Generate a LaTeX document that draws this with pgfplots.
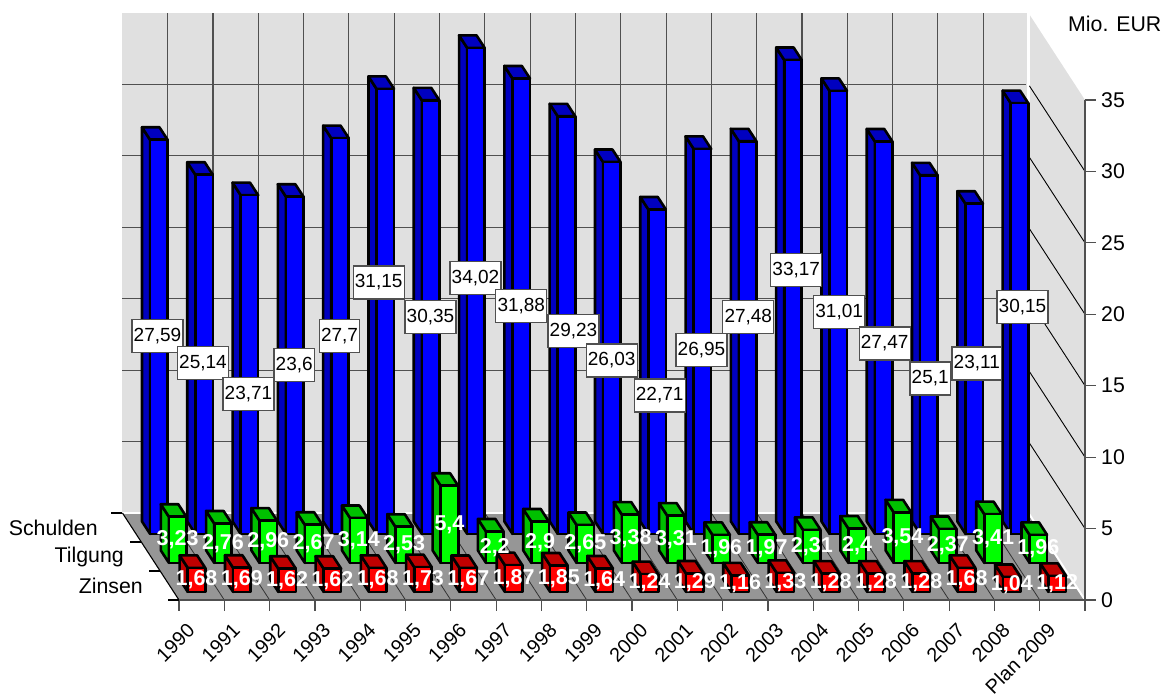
\documentclass[border=0pt]{standalone}
\usepackage{fontspec}
\setmainfont{Liberation Sans}
\usepackage{pgfplots}
\usepackage{pgfplotstable}
\pgfplotsset{compat=1.18}

\definecolor{wallgray}{HTML}{E0E0E0}
\definecolor{floorgray}{HTML}{969696}
\definecolor{gridgray}{HTML}{505050}
\definecolor{blueside}{HTML}{0000C0}
\definecolor{greenside}{HTML}{00C000}
\definecolor{redside}{HTML}{C00000}

% lx, lz: where the value box of the Schulden bar sits
\pgfplotstableread{
i year zinsen tilgung schulden lx lz
0 1990 1.68 3.23 27.59 -0.475 18.46
1 1991 1.69 2.76 25.14 0.530 16.57
2 1992 1.62 2.96 23.71 1.534 14.44
3 1993 1.62 2.67 23.6 2.543 16.43
4 1994 1.68 3.14 27.7 3.543 18.49
5 1995 1.73 2.53 31.15 4.408 22.22
6 1996 1.67 5.4 30.35 5.552 19.81
7 1997 1.87 2.2 34.02 6.545 22.55
8 1998 1.85 2.9 31.88 7.556 20.57
9 1999 1.64 2.65 29.23 8.709 18.84
10 2000 1.24 3.38 26.03 9.552 16.76
11 2001 1.29 3.31 22.71 10.611 14.31
12 2002 1.16 1.96 26.95 11.534 17.52
13 2003 1.33 1.97 27.48 12.567 19.79
14 2004 1.28 2.31 33.17 13.625 23.11
15 2005 1.28 2.4 31.01 14.574 20.15
16 2006 1.28 3.54 27.47 15.578 17.95
17 2007 1.68 2.37 25.1 16.583 15.50
18 2008 1.04 3.41 23.11 17.611 16.55
19 {Plan 2009} 1.12 1.96 30.15 18.620 20.52
}\chartdata

\def\dotcomma#1.#2!{#1,#2}

\tikzset{
  axtext/.style={font=\fontsize{21.3}{25}\selectfont,text=black,inner sep=0pt},
  yeartext/.style={font=\fontsize{19.8}{23}\selectfont,text=black,inner sep=0pt},
  boxlabel/.style={font=\fontsize{19}{22}\selectfont,fill=white,draw=gridgray,line width=1.2pt,
    minimum height=33pt,inner xsep=1.7pt,inner ysep=0pt},
  barlabel/.style={font=\fontsize{21.5}{24}\selectfont\bfseries,text=white,inner sep=0pt},
}

% #1 category, #2 row, #3 column of the table, #4 front colour, #5 side colour
\newcommand\cuboid[5]{%
  \pgfplotstablegetelem{#1}{#3}\of\chartdata
  \let\val\pgfplotsretval
  \pgfmathsetmacro\xa{#1+0.31}
  \pgfmathsetmacro\xb{#1+0.696}
  \pgfmathsetmacro\ya{#2+0.28}
  \pgfmathsetmacro\yb{#2+0.71}
  \addplot3[barface,fill=#5] coordinates {(\xa,\ya,0) (\xa,\yb,0) (\xa,\yb,\val) (\xa,\ya,\val)} --cycle;
  \addplot3[barface,fill=#5] coordinates {(\xa,\ya,\val) (\xa,\yb,\val) (\xb,\yb,\val) (\xb,\ya,\val)} --cycle;
  \addplot3[barface,fill=#4] coordinates {(\xa,\ya,0) (\xb,\ya,0) (\xb,\ya,\val) (\xa,\ya,\val)} --cycle;
}

% white value on the front face of a bar
\newcommand\facelabel[3]{%
  \pgfplotstablegetelem{#1}{#3}\of\chartdata
  \let\val\pgfplotsretval
  \pgfmathsetmacro\xa{#1+0.503}
  \pgfmathsetmacro\ya{#2+0.28}
  \pgfmathsetmacro\za{\val/2}
  \edef\lbl{\expandafter\dotcomma\val!}
  \edef\tmp{\noexpand\node[barlabel] at (axis cs:\xa,\ya,\za) {\lbl};}
  \tmp
}

\pgfplotsset{barface/.style={mark=none,draw=black,line width=2.6pt,line join=round}}

\begin{document}
\begin{tikzpicture}
\path[use as bounding box] (0,0) rectangle (1176pt,698pt);
\begin{axis}[
    at={(179pt,98pt)},anchor=origin,
    x={(45.3pt,0pt)},y={(-18.85pt,29pt)},z={(0pt,14.286pt)},
    xmin=0,xmax=20,ymin=0,ymax=3,zmin=0,zmax=35,
    hide axis,clip=false
]
% walls and floor
\addplot3[mark=none,draw=none,fill=wallgray] coordinates {(0,3,0) (20,3,0) (20,3,35) (0,3,35)} --cycle;
\addplot3[mark=none,draw=none,fill=wallgray] coordinates {(20,3,0) (20,0,0) (20,0,35) (20,3,35)} --cycle;
\addplot3[mark=none,draw=none,fill=floorgray] coordinates {(0,0,0) (20,0,0) (20,3,0) (0,3,0)} --cycle;
\draw[white,line width=2.5pt] (axis cs:0,3,0) -- (axis cs:20,3,0);
\draw[white,line width=2.5pt] (axis cs:20,3,0) -- (axis cs:20,3,35);
\draw[white,line width=2pt] (axis cs:20,3,0) -- (axis cs:20,0,0);

% grid
\pgfplotsinvokeforeach{1,...,19}{
  \draw[gridgray,line width=1.1pt] (axis cs:#1,3,0.1) -- (axis cs:#1,3,35);
}
\pgfplotsinvokeforeach{5,10,...,30}{
  \draw[gridgray,line width=1.1pt] (axis cs:0,3,#1) -- (axis cs:19.95,3,#1);
  \draw[black,line width=0.9pt] (axis cs:20,2.95,#1) -- (axis cs:20,0,#1);
}
\pgfplotsinvokeforeach{1,...,19}{
  \draw[black!80,line width=0.8pt] (axis cs:#1,0,0) -- (axis cs:#1,3,0);
}
\draw[black,line width=1.1pt] (axis cs:0,0,0) -- (axis cs:0,3,0);

% axis lines and ticks
\draw[gridgray,line width=1.5pt] (axis cs:0,0,0) -- (axis cs:20,0,0);
\draw[gridgray,line width=1.5pt] (axis cs:20,0,35) -- ([yshift=-11pt]axis cs:20,0,0);
\pgfplotsinvokeforeach{0,...,19}{
  \draw[gridgray,line width=1.2pt] (axis cs:#1,0,0) -- ++(0pt,-11pt);
}
\pgfplotsinvokeforeach{0,5,...,35}{
  \draw[gridgray,line width=1.2pt] (axis cs:20,0,#1) -- ++(11pt,0pt);
  \node[axtext,anchor=west,xshift=16pt] at (axis cs:20,0,#1) {#1};
}
\pgfplotsinvokeforeach{0,1,2,3}{
  \draw[black,line width=1.1pt] (axis cs:0,#1,0) -- ++(-11pt,0pt);
}

% bars, back row first
\pgfplotsinvokeforeach{0,...,19}{\cuboid{#1}{2}{schulden}{blue}{blueside}}
\pgfplotsinvokeforeach{0,...,19}{\cuboid{#1}{1}{tilgung}{green}{greenside}}
\pgfplotsinvokeforeach{0,...,19}{\cuboid{#1}{0}{zinsen}{red}{redside}}

% values
\pgfplotsinvokeforeach{0,...,19}{\facelabel{#1}{1}{tilgung}}
\pgfplotsinvokeforeach{0,...,19}{\facelabel{#1}{0}{zinsen}}
\pgfplotsinvokeforeach{0,...,19}{
  \pgfplotstablegetelem{#1}{schulden}\of\chartdata
  \edef\lbl{\expandafter\dotcomma\pgfplotsretval!}
  \pgfplotstablegetelem{#1}{lx}\of\chartdata
  \let\xa\pgfplotsretval
  \pgfplotstablegetelem{#1}{lz}\of\chartdata
  \let\za\pgfplotsretval
  \edef\tmp{\noexpand\node[boxlabel] at (axis cs:\xa,0,\za) {\lbl};}
  \tmp
}

% category names
\pgfplotsinvokeforeach{0,...,19}{
  \pgfplotstablegetelem{#1}{year}\of\chartdata
  \let\lbl\pgfplotsretval
  \pgfmathsetmacro\xa{#1+0.5}
  \edef\tmp{\noexpand\node[yeartext,xshift=-10.5pt,yshift=-27pt,rotate=45,anchor=east] at (axis cs:\xa,0,0) {\lbl};}
  \tmp
}
\node[axtext,anchor=east,xshift=-26.6pt] at (axis cs:0,0.5,0) {Zinsen};
\node[axtext,anchor=east,xshift=-26.8pt] at (axis cs:0,1.5,0) {Tilgung};
\node[axtext,anchor=east,xshift=-34pt] at (axis cs:0,2.5,0) {Schulden};
\node[axtext,anchor=west,xshift=-17pt] at (axis cs:20,0,40.32) {Mio. EUR};
\end{axis}
\end{tikzpicture}
\end{document}
